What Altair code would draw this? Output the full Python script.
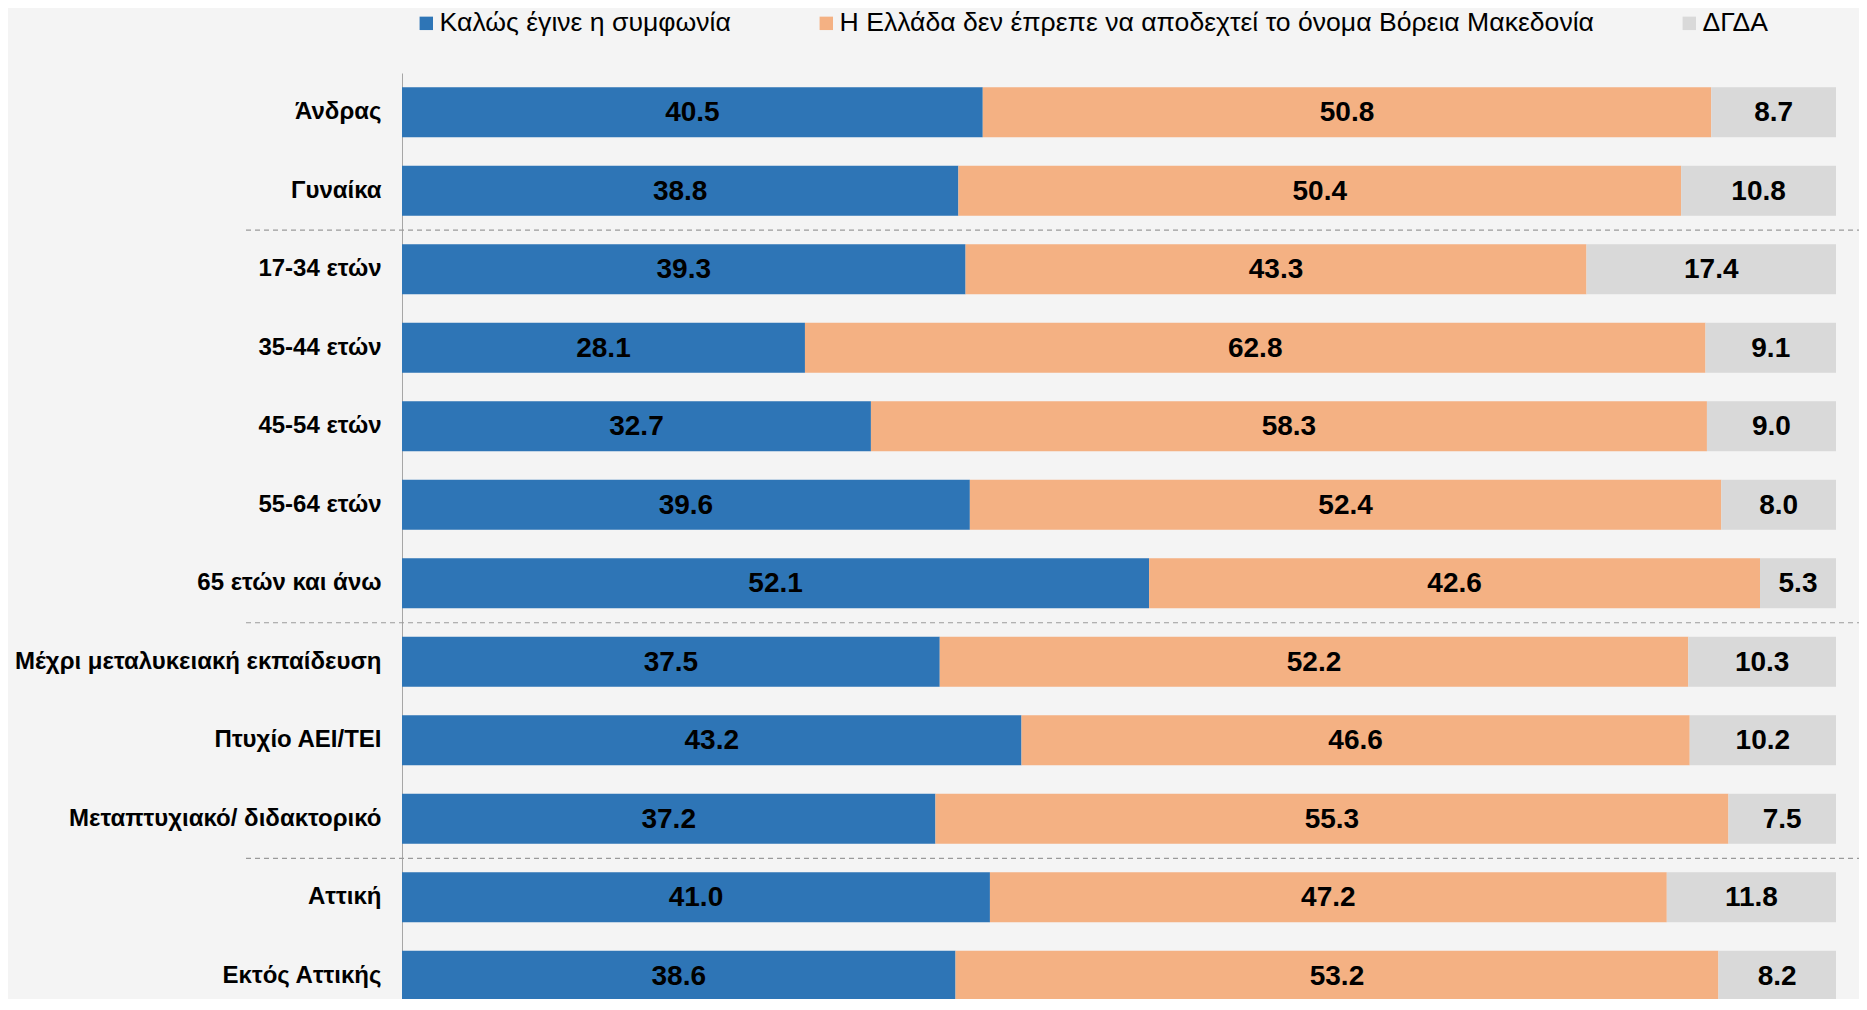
import altair as alt
import pandas as pd

groups = ["Άνδρας", "Γυναίκα", "17-34 ετών", "35-44 ετών", "45-54 ετών", "55-64 ετών",
          "65 ετών και άνω", "Μέχρι μεταλυκειακή εκπαίδευση", "Πτυχίο ΑΕΙ/ΤΕΙ",
          "Μεταπτυχιακό/ διδακτορικό", "Αττική", "Εκτός Αττικής"]
series = ["Καλώς έγινε η συμφωνία",
          "Η Ελλάδα δεν έπρεπε να αποδεχτεί το όνομα Βόρεια Μακεδονία",
          "ΔΓΔΑ"]
good = [40.5, 38.8, 39.3, 28.1, 32.7, 39.6, 52.1, 37.5, 43.2, 37.2, 41.0, 38.6]
bad = [50.8, 50.4, 43.3, 62.8, 58.3, 52.4, 42.6, 52.2, 46.6, 55.3, 47.2, 53.2]
dk = [8.7, 10.8, 17.4, 9.1, 9.0, 8.0, 5.3, 10.3, 10.2, 7.5, 11.8, 8.2]
colors = ["#2e75b6", "#f4b183", "#d9d9d9"]
separator_before = ["17-34 ετών", "Μέχρι μεταλυκειακή εκπαίδευση", "Αττική"]

rows = []
for i, g in enumerate(groups):
    for j, vals in enumerate([good, bad, dk]):
        rows.append({"group": g, "series": series[j], "order": j, "value": vals[i]})
df = pd.DataFrame(rows)
sep_df = pd.DataFrame({"group": separator_before})

y_enc = alt.Y("group:N", sort=groups, title=None,
              scale=alt.Scale(domain=groups, paddingInner=0.363, paddingOuter=0.18, range=[0, 942]),
              axis=alt.Axis(domain=True, domainColor="#a6a6a6", domainWidth=1, ticks=False,
                            labelFont="Liberation Sans", labelFontSize=24, labelFontWeight="bold",
                            labelColor="#000000", labelPadding=21, labelLimit=600, grid=False))

base = alt.Chart(df).transform_stack(
    stack="value", groupby=["group"], as_=["v0", "v1"], sort=[alt.SortField("order")]
).transform_calculate(mid="(datum.v0 + datum.v1) / 2")

bars = base.mark_bar().encode(
    y=y_enc,
    x=alt.X("v0:Q", scale=alt.Scale(domain=[0, 100], nice=False, zero=True), axis=None),
    x2="v1:Q",
    color=alt.Color("series:N", sort=series,
                    scale=alt.Scale(domain=series, range=colors),
                    legend=alt.Legend(title=None, orient="none", direction="horizontal",
                                      legendX=11, legendY=-63, padding=0,
                                      symbolType="square", symbolSize=180, symbolStrokeWidth=0,
                                      labelFont="Liberation Sans", labelFontSize=26.6,
                                      labelColor="#000000", labelLimit=900, labelOffset=0,
                                      columnPadding=82)),
    order=alt.Order("order:Q"),
)

texts = base.mark_text(font="Liberation Sans", fontSize=28, fontWeight="bold",
                       color="#000000", baseline="middle", align="center", dy=1).encode(
    y=alt.Y("group:N", sort=groups),
    x=alt.X("mid:Q"),
    text=alt.Text("value:Q", format=".1f"),
)

seps = alt.Chart(sep_df).mark_rule(color="#9a9a9a", strokeDash=[5, 4], strokeWidth=1.2,
                                   yOffset=-14).encode(
    y=alt.Y("group:N", sort=groups, bandPosition=0),
    x=alt.value(-156), x2=alt.value(1470),
)

chart = alt.layer(bars, seps, texts).properties(
    width=1434, height=926,
    padding={"left": 394, "top": 65, "right": 23, "bottom": 0},
    autosize=alt.AutoSizeParams(type="none"),
    background="#f4f4f4",
).configure_view(stroke=None)

chart.save("out.html", embed_options={"renderer": "svg", "actions": False})
